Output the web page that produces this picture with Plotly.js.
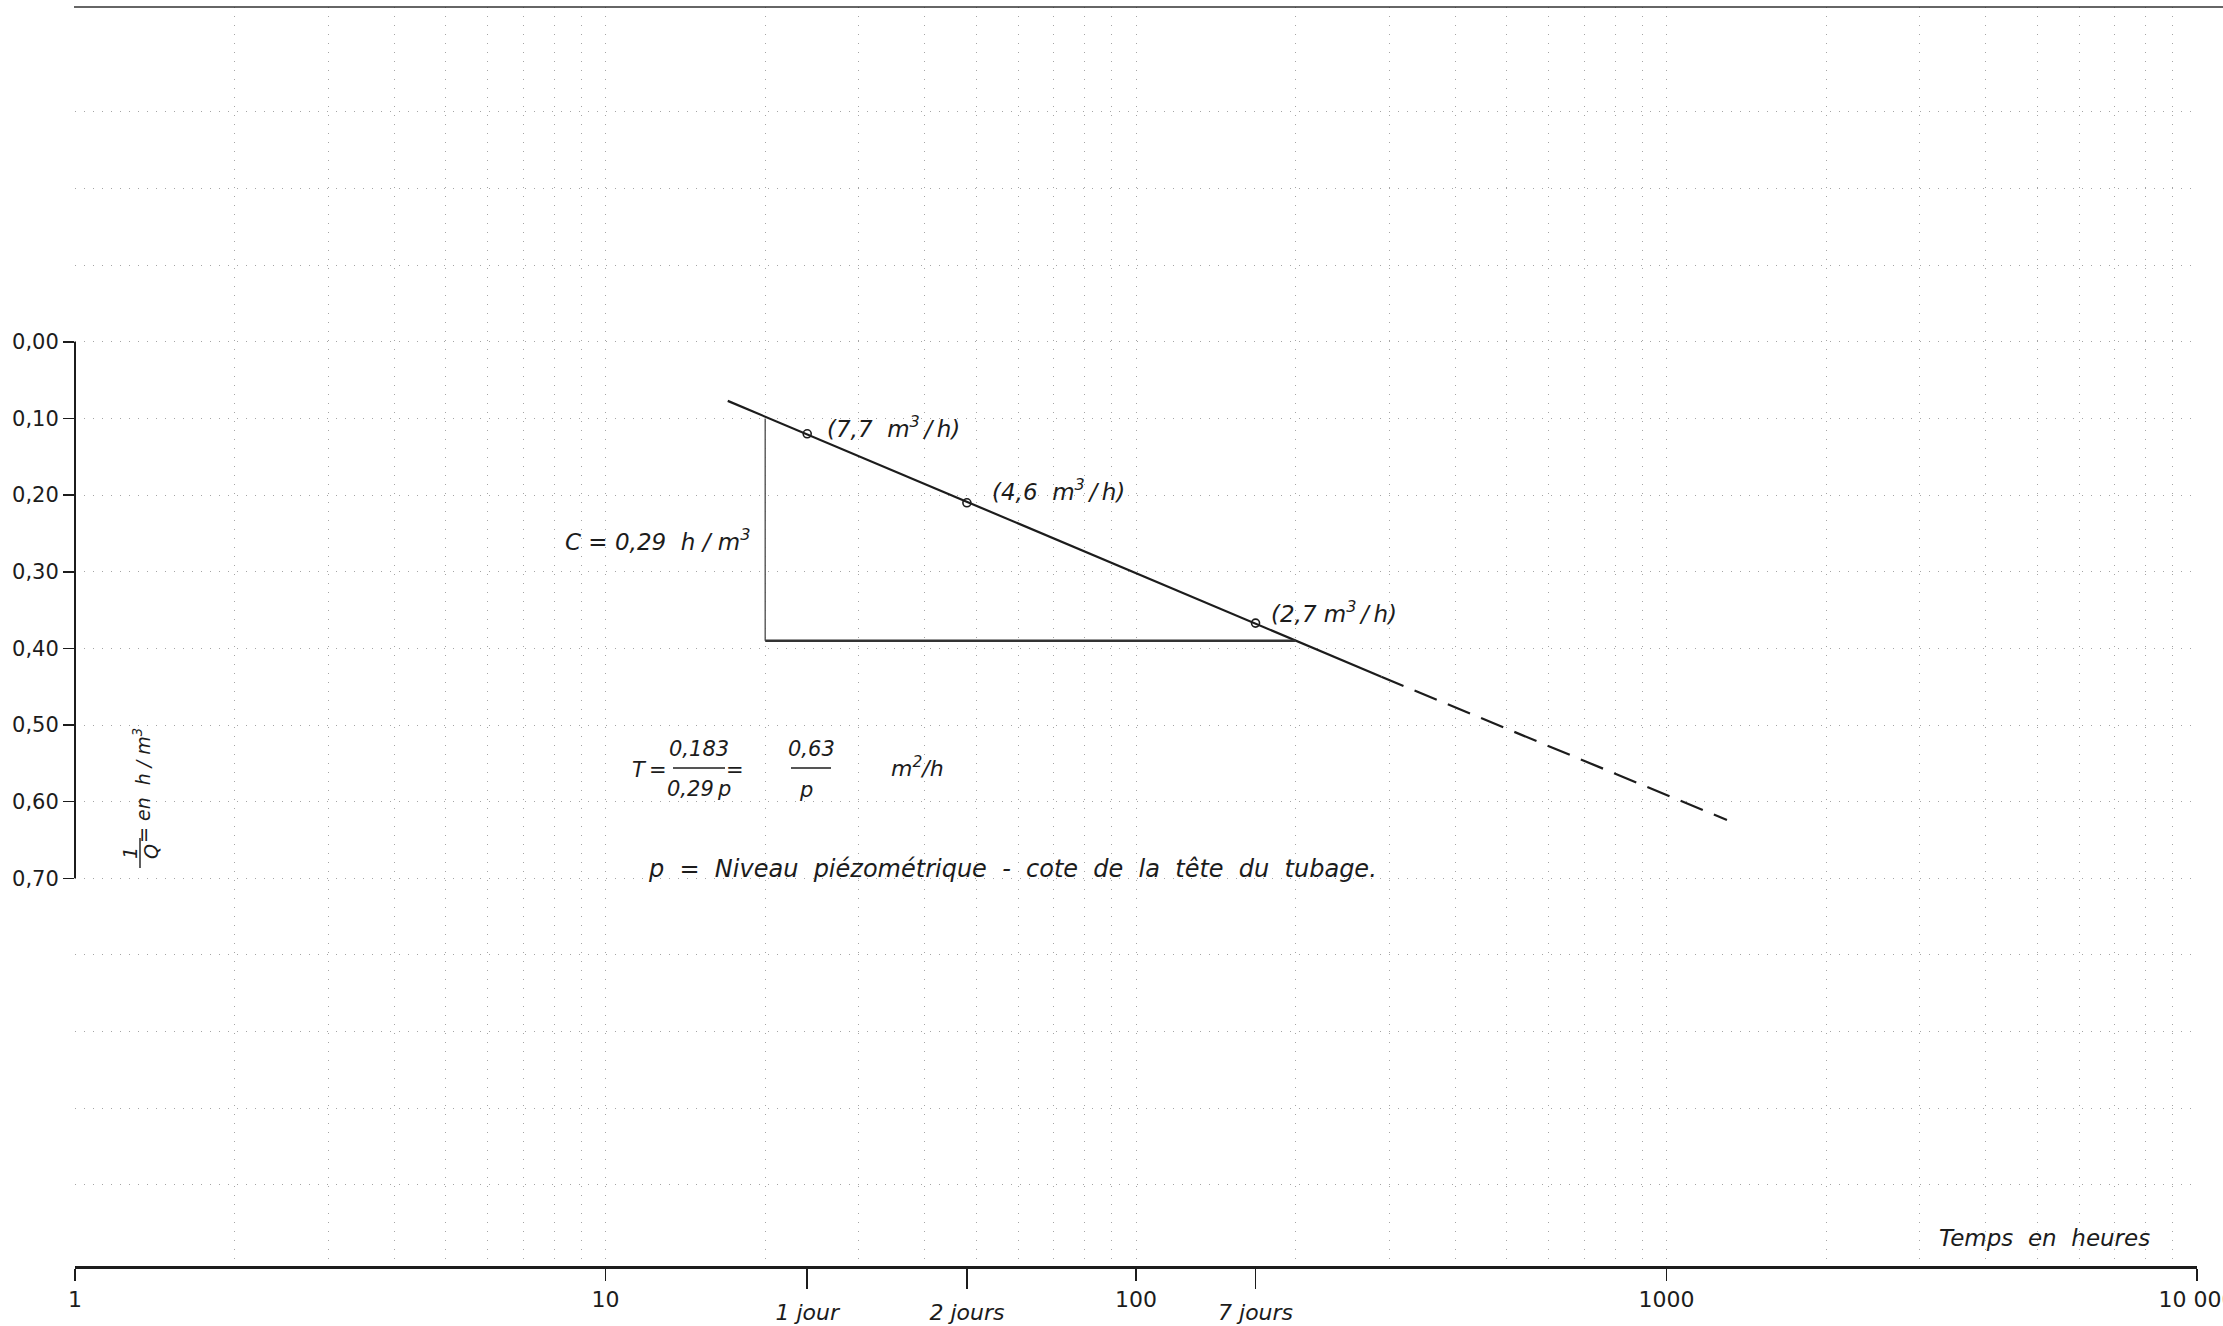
<!DOCTYPE html>
<html>
<head>
<meta charset="utf-8">
<script src="https://cdn.plot.ly/plotly-3.0.1.min.js"></script>
<style>html,body{margin:0;padding:0;background:#fff;}#chart{width:2223px;height:1326px;}</style>
</head>
<body>
<div id="chart"></div>
<script>
// ---- data ----
const lineSolidHours = [17, 290];
const lineSolidValues = [0.077, 0.437];
const lineDashedHours = [290, 1300];
const lineDashedValues = [0.437, 0.624];

const pointHours = [24, 48, 168];
const pointValues = [0.12, 0.21, 0.367];
const pointLabels = [
  '(7,7\u00a0\u00a0m<sup>3</sup>\u2009/\u2009h)',
  '(4,6\u00a0\u00a0m<sup>3</sup>\u2009/\u2009h)',
  '(2,7\u00a0m<sup>3</sup>\u2009/\u2009h)'
];

const triVertHours = [20, 20];
const triVertValues = [0.10, 0.39];
const triHorizHours = [20, 200];
const triHorizValues = [0.39, 0.39];

const xTickVals = [1, 10, 100, 1000, 10000];
const xTickText = ['1', '10', '100', '1000', '10 000'];
const dayTickVals = [24, 48, 168];
const dayTickText = ['1 jour', '2 jours', '7 jours'];

const yTickVals = [0, 0.1, 0.2, 0.3, 0.4, 0.5, 0.6, 0.7];
const yTickText = ['0,00', '0,10', '0,20', '0,30', '0,40', '0,50', '0,60', '0,70'];

const gridMinorX = [2,3,4,5,6,7,8,9,20,30,40,50,60,70,80,90,200,300,400,500,600,700,800,900,2000,3000,4000,5000,6000,7000,8000,9000];
const gridMinorY = [-0.3, -0.2, -0.1, 0.8, 0.9, 1.0, 1.1];

// ---- layout geometry ----
const W = 2223, H = 1326;
const ML = 75, MR = 26, MT = 7, MB = 60;
const PW = W - ML - MR, PH = H - MT - MB;
const px = p => (p - ML) / PW;
const py = p => (H - MB - p) / PH;

const ink = '#1c1c1c';
const FONT = 'DejaVu Sans, Liberation Sans, sans-serif';
const ital = (size) => ({family: FONT, size: size, color: ink, style: 'italic'});
const sp2 = s => s.split(' ').join('\u00a0\u00a0');

const traces = [
  {x: lineSolidHours, y: lineSolidValues, mode: 'lines', line: {color: ink, width: 2.2}, xaxis: 'x', yaxis: 'y', hoverinfo: 'skip'},
  {x: lineDashedHours, y: lineDashedValues, mode: 'lines', line: {color: ink, width: 2.2, dash: '24px,12px'}, xaxis: 'x', yaxis: 'y', hoverinfo: 'skip'},
  {x: triVertHours, y: triVertValues, mode: 'lines', line: {color: '#555', width: 1.4}, xaxis: 'x', yaxis: 'y', hoverinfo: 'skip'},
  {x: triHorizHours, y: triHorizValues, mode: 'lines', line: {color: '#333', width: 2.4}, xaxis: 'x', yaxis: 'y', hoverinfo: 'skip'},
  {x: pointHours, y: pointValues, mode: 'markers', marker: {symbol: 'circle-open', size: 8, color: ink, line: {width: 1.6, color: ink}}, xaxis: 'x2', yaxis: 'y'}
];

const annotations = [];
const shifts = [[18, 7], [23, 13], [13, 11]];
pointHours.forEach((h, i) => {
  annotations.push({x: Math.log10(h), y: pointValues[i], xref: 'x', yref: 'y', text: pointLabels[i], showarrow: false,
    xanchor: 'left', yanchor: 'middle', xshift: shifts[i][0], yshift: shifts[i][1], font: ital(23)});
});

// C label
annotations.push({x: px(752), y: py(540), xref: 'paper', yref: 'paper', xanchor: 'right', yanchor: 'middle', showarrow: false,
  text: 'C = 0,29\u00a0 h / m<sup>3</sup>', font: ital(23)});

// T formula
annotations.push({x: px(669), y: py(770), xref: 'paper', yref: 'paper', xanchor: 'right', yanchor: 'middle', showarrow: false, text: 'T\u2009=', font: ital(21)});
annotations.push({x: px(699), y: py(749), xref: 'paper', yref: 'paper', xanchor: 'center', yanchor: 'middle', showarrow: false, text: '0,183', font: ital(21)});
annotations.push({x: px(699), y: py(789), xref: 'paper', yref: 'paper', xanchor: 'center', yanchor: 'middle', showarrow: false, text: '0,29\u2009p', font: ital(21)});
annotations.push({x: px(735), y: py(770), xref: 'paper', yref: 'paper', xanchor: 'center', yanchor: 'middle', showarrow: false, text: '=', font: ital(21)});
annotations.push({x: px(811), y: py(749), xref: 'paper', yref: 'paper', xanchor: 'center', yanchor: 'middle', showarrow: false, text: '0,63', font: ital(21)});
annotations.push({x: px(806), y: py(790), xref: 'paper', yref: 'paper', xanchor: 'center', yanchor: 'middle', showarrow: false, text: 'p', font: ital(21)});
annotations.push({x: px(889), y: py(767), xref: 'paper', yref: 'paper', xanchor: 'left', yanchor: 'middle', showarrow: false, text: 'm<sup>2</sup>/h', font: ital(22)});

// p definition
annotations.push({x: px(646), y: py(869), xref: 'paper', yref: 'paper', xanchor: 'left', yanchor: 'middle', showarrow: false,
  text: sp2('p = Niveau piézométrique - cote de la tête du tubage.'), font: ital(24)});

// x axis title
annotations.push({x: px(2152), y: py(1238), xref: 'paper', yref: 'paper', xanchor: 'right', yanchor: 'middle', showarrow: false,
  text: 'Temps\u00a0\u00a0en\u00a0\u00a0heures', font: ital(23)});

// y axis title (rotated fraction)
annotations.push({x: px(130), y: py(853), xref: 'paper', yref: 'paper', xanchor: 'center', yanchor: 'middle', showarrow: false, textangle: -90, text: '1', font: ital(19)});
annotations.push({x: px(151), y: py(852), xref: 'paper', yref: 'paper', xanchor: 'center', yanchor: 'middle', showarrow: false, textangle: -90, text: 'Q', font: ital(19)});
annotations.push({x: px(142), y: py(786), xref: 'paper', yref: 'paper', xanchor: 'center', yanchor: 'middle', showarrow: false, textangle: -90,
  text: '=\u00a0en\u00a0 h / m<sup>3</sup>', font: ital(19)});

const shapes = [
  // top frame line
  {type: 'line', xref: 'paper', yref: 'paper', x0: px(74), x1: px(2223), y0: py(7), y1: py(7), line: {color: '#333', width: 1.6}},
  // y axis line (0 to 0.70 only)
  {type: 'line', xref: 'paper', yref: 'y', x0: 0, x1: 0, y0: 0, y1: 0.7, line: {color: ink, width: 2}},
  // fraction bars
  {type: 'line', xref: 'paper', yref: 'paper', x0: px(673), x1: px(725), y0: py(768), y1: py(768), line: {color: ink, width: 1.4}},
  {type: 'line', xref: 'paper', yref: 'paper', x0: px(791), x1: px(831), y0: py(768), y1: py(768), line: {color: ink, width: 1.4}},
  {type: 'line', xref: 'paper', yref: 'paper', x0: px(140), x1: px(140), y0: py(838), y1: py(868), line: {color: ink, width: 1.4}}
];

const gridStyle = {gridcolor: '#a5a5a5', griddash: '1px,8px', gridwidth: 1};

const layout = {
  width: W, height: H,
  margin: {l: ML, r: MR, t: MT, b: MB, pad: 0},
  paper_bgcolor: '#fff', plot_bgcolor: '#fff',
  showlegend: false,
  xaxis: Object.assign({
    type: 'log', range: [0, 4], domain: [0, 1], anchor: 'y',
    tickmode: 'array', tickvals: xTickVals, ticktext: xTickText,
    ticks: 'outside', ticklen: 12, tickwidth: 1.5, tickcolor: ink,
    ticklabeloverflow: 'allow',
    showline: true, linecolor: ink, linewidth: 2.5,
    showgrid: true, zeroline: false,
    tickfont: {family: FONT, size: 22, color: ink},
    minor: Object.assign({tickmode: 'array', tickvals: gridMinorX, showgrid: true, ticks: ''}, gridStyle)
  }, gridStyle),
  xaxis2: {
    type: 'log', range: [0, 4], overlaying: 'x', anchor: 'y', side: 'bottom',
    tickmode: 'array', tickvals: dayTickVals, ticktext: dayTickText,
    ticks: 'outside', ticklen: 22, tickwidth: 1.5, tickcolor: ink,
    ticklabelstandoff: 5, ticklabeloverflow: 'allow',
    showline: false, showgrid: false, zeroline: false,
    tickfont: ital(22)
  },
  yaxis: Object.assign({
    range: [1.206, -0.437], domain: [0, 1], anchor: 'x',
    tickmode: 'array', tickvals: yTickVals, ticktext: yTickText,
    ticks: 'outside', ticklen: 11, tickwidth: 1.5, tickcolor: ink,
    showline: false, showgrid: true, zeroline: false,
    tickfont: {family: FONT, size: 21, color: ink},
    minor: Object.assign({tickmode: 'array', tickvals: gridMinorY, showgrid: true, ticks: ''}, gridStyle)
  }, gridStyle),
  annotations: annotations,
  shapes: shapes
};

Plotly.newPlot('chart', traces, layout, {staticPlot: true, displayModeBar: false});
</script>
</body>
</html>
